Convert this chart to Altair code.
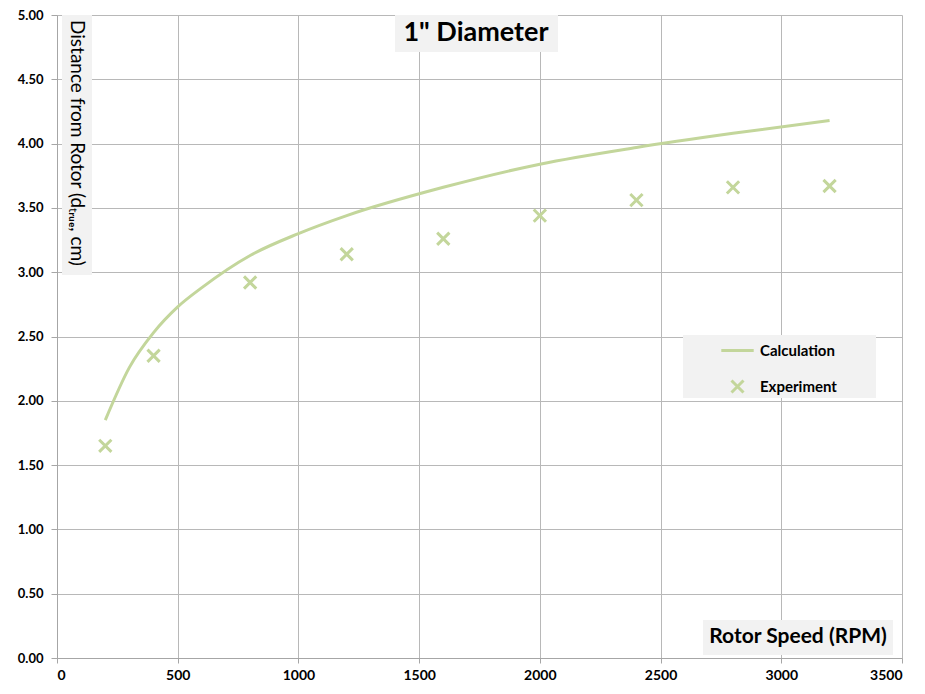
import altair as alt
import pandas as pd

# Data
calc_rpm = [200, 300, 400, 500, 600, 800, 1000, 1200, 1600, 2000, 2400, 2800, 3200]
calc_dist = [1.85, 2.26, 2.53, 2.73, 2.88, 3.13, 3.30, 3.44, 3.66, 3.84, 3.97, 4.08, 4.18]
exp_rpm = [200, 400, 800, 1200, 1600, 2000, 2400, 2800, 3200]
exp_dist = [1.65, 2.35, 2.92, 3.14, 3.26, 3.44, 3.56, 3.66, 3.67]
series_names = ["Calculation", "Experiment"]
x_ticks = [0, 500, 1000, 1500, 2000, 2500, 3000, 3500]
y_ticks = [0, 0.5, 1.0, 1.5, 2.0, 2.5, 3.0, 3.5, 4.0, 4.5, 5.0]

title_text = "1\" Diameter"
x_title = "Rotor Speed (RPM)"
y_title = "Distance from Rotor (dₜᵣᵤₑ, cm)"

GREEN = "#c3d69b"
BOX = "#f2f2f2"
FONT = "Lato"

calc_df = pd.DataFrame({"rpm": calc_rpm, "dist": calc_dist, "series": series_names[0]})
exp_df = pd.DataFrame({"rpm": exp_rpm, "dist": exp_dist, "series": series_names[1]})

x_scale = alt.Scale(domain=[0, 3500], nice=False)
y_scale = alt.Scale(domain=[0, 5], nice=False)

color = alt.Color("series:N", scale=alt.Scale(domain=series_names, range=[GREEN, GREEN]),
                  legend=alt.Legend(title=None, orient="none", legendX=673, legendY=328,
                                    symbolSize=144, symbolStrokeWidth=3, labelOffset=15,
                                    rowPadding=15, padding=0, labelFont=FONT,
                                    labelFontSize=15, labelFontWeight="bold", labelColor="#000000"))
shape = alt.Shape("series:N", scale=alt.Scale(domain=series_names,
                                              range=["M-2.7,0L2.7,0", "M-1,-1L1,1M1,-1L-1,1"]))

x_axis = alt.Axis(values=x_ticks, title=None, format="d", grid=True, gridColor="#b8b8b8",
                  domainColor="#a6a6a6", tickColor="#a6a6a6", tickSize=5, labelPadding=5,
                  labelFont=FONT, labelFontSize=14, labelFontWeight="bold", labelColor="#000000")
y_axis = alt.Axis(values=y_ticks, title=None, format=".2f", grid=True, gridColor="#b8b8b8",
                  domainColor="#a6a6a6", tickColor="#a6a6a6", tickSize=6, labelPadding=8,
                  labelFont=FONT, labelFontSize=13, labelFontWeight="bold", labelColor="#000000")

line = alt.Chart(calc_df).mark_line(strokeWidth=3, interpolate="monotone").encode(
    x=alt.X("rpm:Q", scale=x_scale, axis=x_axis),
    y=alt.Y("dist:Q", scale=y_scale, axis=y_axis),
    color=color,
)

points = alt.Chart(exp_df).mark_point(filled=False, strokeWidth=3, size=150, opacity=1).encode(
    x=alt.X("rpm:Q", scale=x_scale),
    y=alt.Y("dist:Q", scale=y_scale),
    color=color,
    shape=shape,
)

def box(x1, x2, y1, y2):
    return alt.Chart(pd.DataFrame({"k": [0]})).mark_rect(color=BOX).encode(
        x=alt.value(x1), x2=alt.value(x2), y=alt.value(y1), y2=alt.value(y2))

def label(text, x, y, size, weight, angle=0):
    return alt.Chart(pd.DataFrame({"t": [text]})).mark_text(
        font=FONT, fontSize=size, fontWeight=weight, color="#000000",
        align="center", baseline="middle", angle=angle).encode(
        text="t:N", x=alt.value(x), y=alt.value(y))

layers = [
    box(626, 819, 320, 383),
    box(338, 501, 0, 37),
    box(5, 35, 0, 260),
    box(646, 836, 605, 640),
    line,
    points,
    label(title_text, 419, 18, 27, "bold"),
    label(y_title, 20, 128, 19, "normal", angle=90),
    label(x_title, 741, 622, 21, "bold"),
]

chart = alt.layer(*layers).properties(
    width=845, height=643,
    autosize=alt.AutoSizeParams(type="none"),
    padding={"left": 49, "top": 7, "right": 15, "bottom": 40},
).configure_view(stroke=None).configure_axis(labelFont=FONT)

chart.save("out.html", embed_options={"renderer": "svg", "actions": False})
